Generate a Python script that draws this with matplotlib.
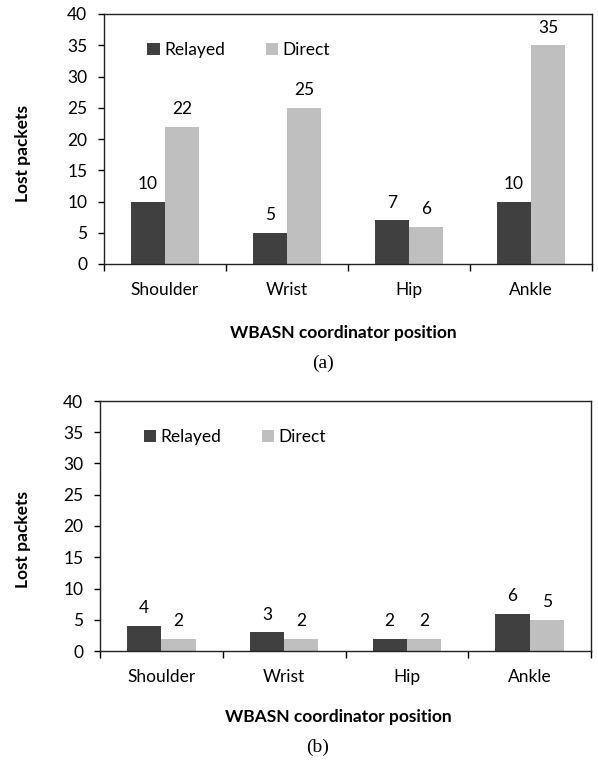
import matplotlib
matplotlib.use("Agg")
import matplotlib.pyplot as plt
import numpy as np

categories = ["Shoulder", "Wrist", "Hip", "Ankle"]
relayed_a = [10, 5, 7, 10]
direct_a = [22, 25, 6, 35]
relayed_b = [4, 3, 2, 6]
direct_b = [2, 2, 2, 5]
yticks = [0, 5, 10, 15, 20, 25, 30, 35, 40]

DARK = "#404040"
LIGHT = "#bfbfbf"
FONT = ["Lato", "DejaVu Sans"]
plt.rcParams['font.family'] = FONT
FS = 12.5
W, H = 598, 760

fig = plt.figure(figsize=(5.98, 7.6), dpi=100)
ax_a = fig.add_axes([104/W, 1-264/H, (592-104)/W, (264-14)/H])
ax_b = fig.add_axes([100/W, 1-651/H, (591-100)/W, (651-401)/H])

def draw(ax, rel, dirv):
    x = np.arange(len(categories))
    w = 0.28
    b1 = ax.bar(x - w/2, rel, w, color=DARK, label="Relayed")
    b2 = ax.bar(x + w/2, dirv, w, color=LIGHT, label="Direct")
    for bars in (b1, b2):
        for r in bars:
            ax.annotate(f"{int(r.get_height())}", (r.get_x() + r.get_width()/2, r.get_height()),
                        xytext=(0, 7), textcoords="offset points", ha="center", va="bottom",
                        fontsize=FS)
    ax.set_xlim(-0.5, len(categories) - 0.5)
    ax.set_ylim(0, 40)
    ax.set_yticks(yticks)
    ax.set_xticks(x)
    ax.set_xticklabels(categories)
    ax.set_xticks(np.arange(-0.5, len(categories)), minor=True)
    ax.tick_params(axis="x", which="major", length=0, pad=13, labelsize=FS)
    ax.tick_params(axis="x", which="minor", length=5, width=1, direction="out")
    ax.tick_params(axis="y", length=4, width=1, direction="out", labelsize=FS, pad=8)
    for s in ax.spines.values():
        s.set_linewidth(1.0)
        s.set_color("#222222")
    ax.legend(loc="upper left", bbox_to_anchor=(0.057, 0.95), ncol=2, frameon=False,
              fontsize=FS, handlelength=0.7, handleheight=0.7, handletextpad=0.25,
              columnspacing=2.35)

draw(ax_a, relayed_a, direct_a)
draw(ax_b, relayed_b, direct_b)

def ftext(x, y, s, **kw):
    fig.text(x/W, 1-y/H, s, ha="center", va="center", **kw)

# y-axis labels
ftext(23, 154, "Lost packets", rotation=90, fontsize=FS, fontweight="bold")
ftext(23, 539, "Lost packets", rotation=90, fontsize=FS, fontweight="bold")
# x-axis labels
ftext(343, 333, "WBASN coordinator position", fontsize=FS, fontweight="bold")
ftext(338, 717, "WBASN coordinator position", fontsize=FS, fontweight="bold")
# captions
serif = ["Liberation Serif", "DejaVu Serif"]
ftext(323, 363, "(a)", fontsize=14, family=serif)
ftext(318, 747, "(b)", fontsize=14, family=serif)

fig.savefig("out.png", dpi=100)
